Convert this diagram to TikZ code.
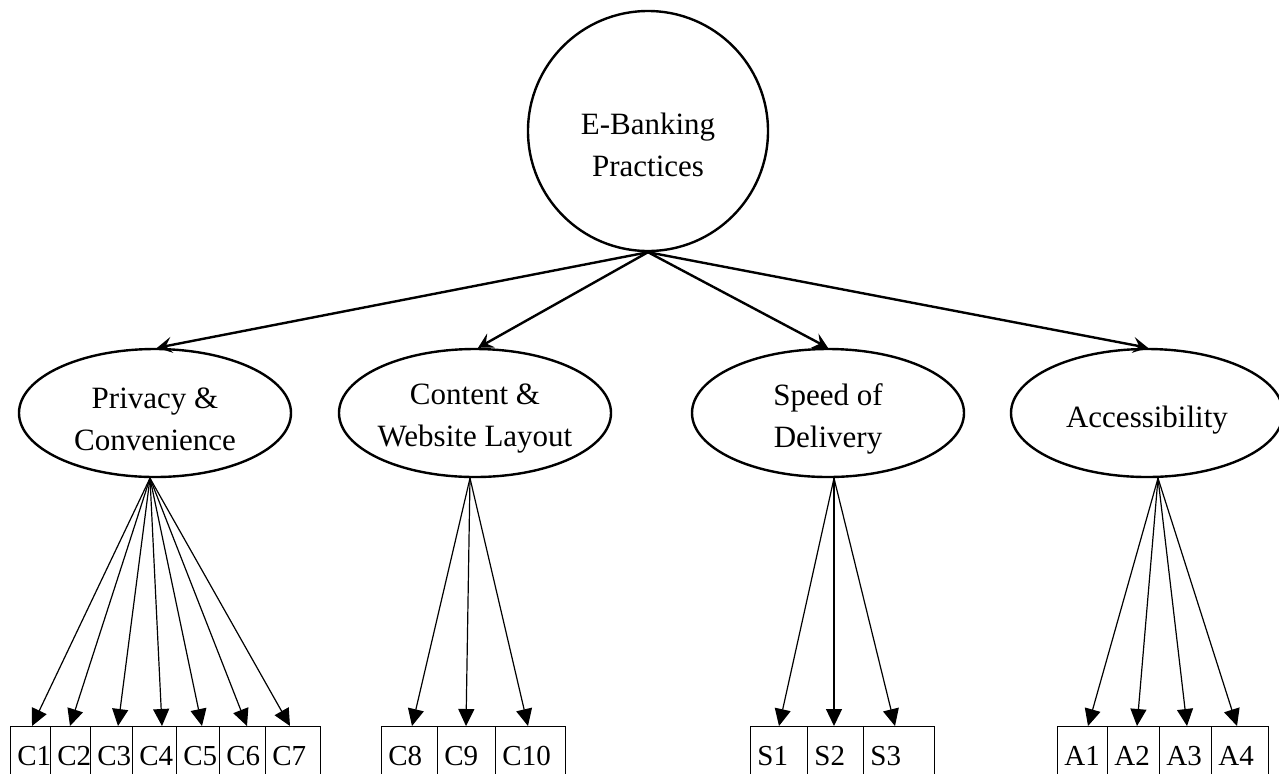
\documentclass[tikz,border=0pt]{standalone}
\usepackage{fontspec}
\setmainfont{Liberation Serif}
\usetikzlibrary{arrows.meta,shapes.geometric}
\begin{document}
\begin{tikzpicture}[x=0.5pt,y=-0.5pt,
 root/.style={draw, circle, line width=1.2pt, minimum size=120pt, inner sep=0pt},
 lat/.style={draw, ellipse, line width=1.2pt, minimum width=136pt, minimum height=64pt, inner sep=0pt},
 lbl/.style={align=center, font=\fontsize{15.5}{21}\selectfont, inner sep=0pt},
 cell/.style={draw, line width=0.7pt, anchor=north west, minimum height=40pt, inner sep=0pt},
 ctext/.style={anchor=base west, font=\fontsize{14.5}{17}\selectfont, inner sep=0pt},
 up/.style={line width=1.2pt, -{Stealth[length=7.5pt,width=8pt,inset=3pt]}},
 lo/.style={line width=0.6pt, -{Triangle[length=8.5pt,width=8pt]}}]
\useasboundingbox (0,0) rectangle (1279,773);
% root
\node[root] (eb) at (648,131) {};
\node[lbl] (ebt) at (648,145) {E-Banking\\Practices};
% latent factors
\node[lat] (pc) at (155,413) {};
\node[lbl] (pct) at (155,419) {Privacy \&\\Convenience};
\node[lat] (cw) at (475,413) {};
\node[lbl] (cwt) at (475,419) {Content \&\\Website Layout};
\node[lat] (sd) at (828,413) {};
\node[lbl] (sdt) at (828,419) {Speed of\\Delivery};
\node[lat] (ac) at (1147,413) {};
\node[lbl] (act) at (1147,420) {Accessibility};
% upper arrows
\draw[up] (eb.south) -- ([xshift=1pt]pc.north);
\draw[up] (eb.south) -- ([xshift=1.5pt]cw.north);
\draw[up] (eb.south) -- (sd.north);
\draw[up] (eb.south) -- ([xshift=0.5pt]ac.north);
% indicator cells
\foreach \n/\l/\w/\o/\src/\s in {
  C1/10/20/11/pc/-2.5, C2/50/20/10/pc/-2.5, C3/90/21/14/pc/-2.5, C4/132/22/15/pc/-2.5,
  C5/176/21.5/13/pc/-2.5, C6/219/23/14/pc/-2.5, C7/265/27.5/12.5/pc/-2.5,
  C8/381/28/15.5/cw/-2.5, C9/437/29/14.5/cw/-2.5, C10/495/35/16.5/cw/-2.5,
  S1/750/28.5/14.5/sd/3, S2/807/28/13.5/sd/3, S3/863/35.5/16/sd/3,
  A1/1057/25/15.5/ac/5.5, A2/1107/26/15/ac/5.5, A3/1159/26/14/ac/5.5, A4/1211/28.5/13/ac/5.5}{
  \node[cell, minimum width=\w pt] (b\n) at (\l,726) {};
  \node[ctext] (t\n) at (\l+7,765) {\n};
  \draw[lo] ([xshift=\s pt]\src.south) -- ([xshift=\o pt]b\n.north west);
}
\end{tikzpicture}
\end{document}
